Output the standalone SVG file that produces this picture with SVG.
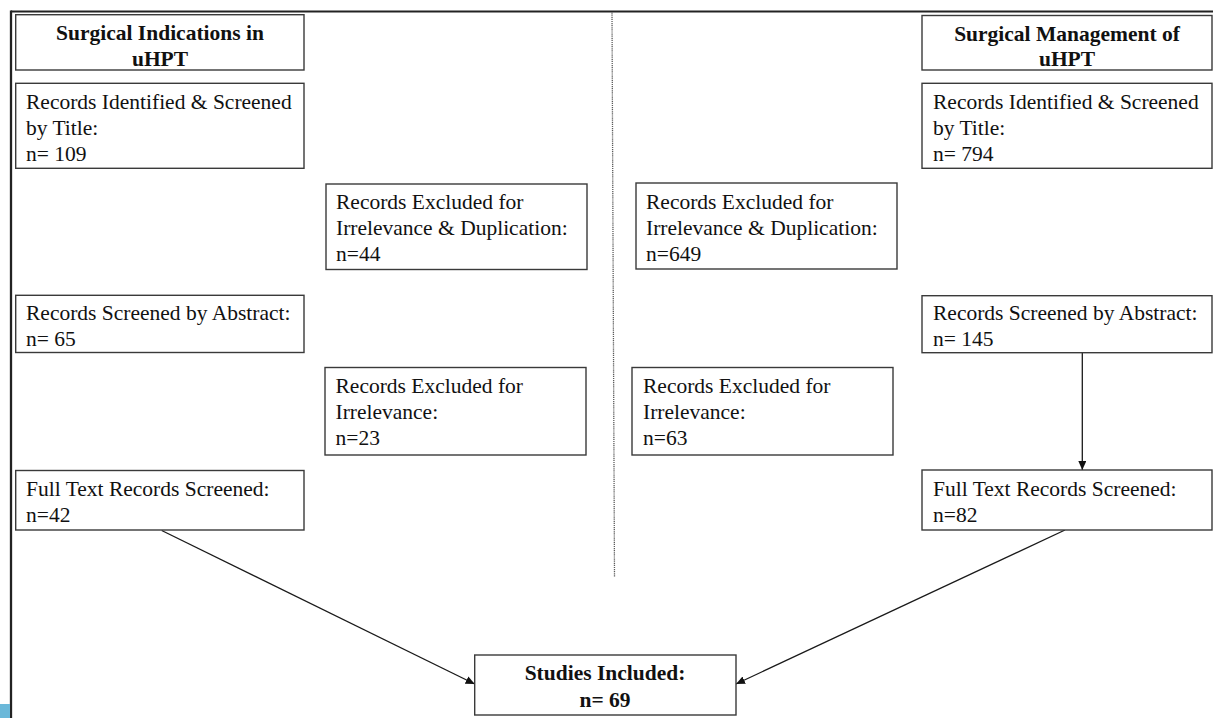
<svg xmlns="http://www.w3.org/2000/svg" width="1213" height="718" viewBox="0 0 1213 718">
<defs>
<style>
.box{fill:#fff;stroke:#3a3a3a;stroke-width:1.4}
.t{font-family:"Liberation Serif","Times New Roman",serif;font-size:21.5px;fill:#111}
.b{font-weight:bold}
.c{text-anchor:middle}
.conn{stroke:#1a1a1a;stroke-width:1.3;fill:none}
</style>
<marker id="ah" markerUnits="userSpaceOnUse" markerWidth="10" markerHeight="8" refX="9" refY="4" orient="auto">
<path d="M0,0 L9,4 L0,8 Z" fill="#111"/>
</marker>
</defs>
<rect width="1213" height="718" fill="#fff"/>
<g id="frame">
<line x1="11" y1="11.5" x2="1213" y2="11.5" stroke="#222" stroke-width="2.2"/>
<line x1="11" y1="10.5" x2="11" y2="718" stroke="#222" stroke-width="2.3"/>
<rect x="0" y="704" width="10" height="14" fill="#6bb8d9"/>
<line x1="612" y1="12.5" x2="614.5" y2="577" stroke="#5a5a5a" stroke-width="1.3" stroke-dasharray="1.2 0.9"/>
</g>
<g id="connectors">
<line class="conn" x1="1082.3" y1="352.7" x2="1082.3" y2="470" marker-end="url(#ah)"/>
<line class="conn" x1="161.7" y1="530.5" x2="474.7" y2="684" marker-end="url(#ah)"/>
<line class="conn" x1="1065" y1="530" x2="736" y2="684" marker-end="url(#ah)"/>
</g>
<g id="hdr-left">
<rect class="box" x="15.7" y="14.7" width="288.3" height="55.3"/>
<text class="t b c" x="160" y="40">Surgical Indications in</text>
<text class="t b c" x="160" y="65.7">uHPT</text>
</g>
<g id="hdr-right">
<rect class="box" x="922" y="15.5" width="290" height="54.5"/>
<text class="t b c" x="1067" y="40.5">Surgical Management of</text>
<text class="t b c" x="1067" y="66">uHPT</text>
</g>
<g id="id-left">
<rect class="box" x="15.7" y="83.3" width="288.3" height="85"/>
<text class="t" x="26" y="109">Records Identified &amp; Screened</text>
<text class="t" x="26" y="135">by Title:</text>
<text class="t" x="26" y="160.5">n= 109</text>
</g>
<g id="id-right">
<rect class="box" x="922" y="83.3" width="290" height="85"/>
<text class="t" x="933" y="109">Records Identified &amp; Screened</text>
<text class="t" x="933" y="135">by Title:</text>
<text class="t" x="933" y="160.5">n= 794</text>
</g>
<g id="ex1-left">
<rect class="box" x="326" y="184" width="261" height="85.5"/>
<text class="t" x="336" y="209">Records Excluded for</text>
<text class="t" x="336" y="235">Irrelevance &amp; Duplication:</text>
<text class="t" x="336" y="261">n=44</text>
</g>
<g id="ex1-right">
<rect class="box" x="636" y="183" width="261" height="86"/>
<text class="t" x="646" y="208.5">Records Excluded for</text>
<text class="t" x="646" y="234.5">Irrelevance &amp; Duplication:</text>
<text class="t" x="646" y="260.5">n=649</text>
</g>
<g id="abs-left">
<rect class="box" x="15.7" y="295.3" width="288.3" height="57.2"/>
<text class="t" x="26" y="320">Records Screened by Abstract:</text>
<text class="t" x="26" y="345.5">n= 65</text>
</g>
<g id="abs-right">
<rect class="box" x="922" y="295.7" width="290" height="57"/>
<text class="t" x="933" y="320.3">Records Screened by Abstract:</text>
<text class="t" x="933" y="345.8">n= 145</text>
</g>
<g id="ex2-left">
<rect class="box" x="325" y="367.5" width="261" height="87.5"/>
<text class="t" x="335.5" y="393">Records Excluded for</text>
<text class="t" x="335.5" y="419">Irrelevance:</text>
<text class="t" x="335.5" y="445">n=23</text>
</g>
<g id="ex2-right">
<rect class="box" x="632" y="367.5" width="261" height="87.5"/>
<text class="t" x="643" y="393">Records Excluded for</text>
<text class="t" x="643" y="419">Irrelevance:</text>
<text class="t" x="643" y="445">n=63</text>
</g>
<g id="full-left">
<rect class="box" x="15.7" y="470.5" width="288.3" height="59.5"/>
<text class="t" x="26" y="496">Full Text Records Screened:</text>
<text class="t" x="26" y="521.5">n=42</text>
</g>
<g id="full-right">
<rect class="box" x="922" y="470" width="290" height="60"/>
<text class="t" x="933" y="496">Full Text Records Screened:</text>
<text class="t" x="933" y="521.5">n=82</text>
</g>
<g id="included">
<rect class="box" x="474.7" y="655" width="261.3" height="60"/>
<text class="t b c" x="605" y="680">Studies Included:</text>
<text class="t b c" x="605" y="706.5">n= 69</text>
</g>
</svg>
